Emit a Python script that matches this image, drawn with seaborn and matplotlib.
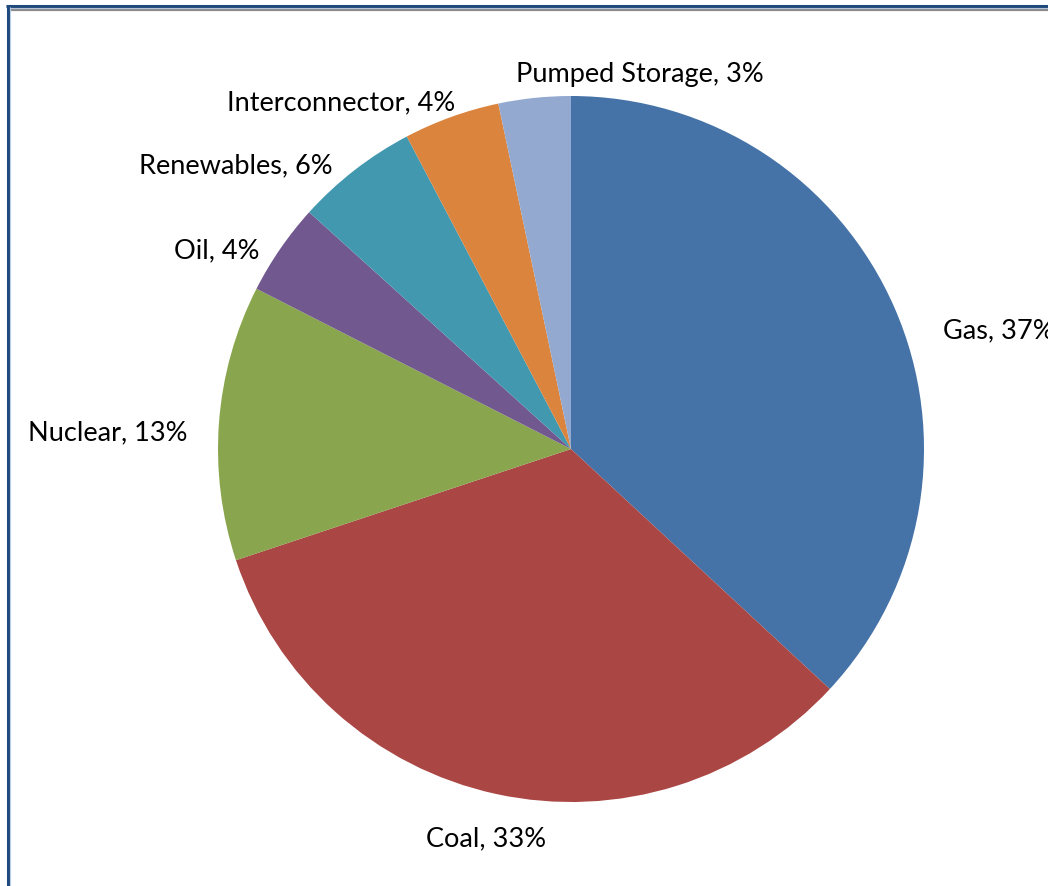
import matplotlib
matplotlib.use("Agg")
import matplotlib.pyplot as plt
from matplotlib.lines import Line2D
import seaborn as sns

sns.set_theme(style="white")
plt.rcParams["font.family"] = ["Lato", "DejaVu Sans"]

# Generation mix by source (percent of total)
sources = ["Gas", "Coal", "Nuclear", "Oil", "Renewables", "Interconnector", "Pumped Storage"]
shares = [36.9, 33.0, 12.6, 4.2, 5.6, 4.4, 3.3]
colors = ["#4572A7", "#AA4643", "#89A54E", "#71588F", "#4198AF", "#DB843D", "#93A9CF"]

W, H, DPI = 1048, 887, 100
fig = plt.figure(figsize=(W / DPI, H / DPI), dpi=DPI)
fig.patch.set_facecolor("white")

# Axes spans the whole canvas; limits are chosen so one data unit = pie radius in pixels
ax = fig.add_axes([0, 0, 1, 1])
cx, cy, rad = 571, 450, 353
ax.axis("off")

wedges, _ = ax.pie(
    shares,
    colors=colors,
    startangle=90,
    counterclock=False,
    radius=1.0,
    center=(0, 0),
    wedgeprops=dict(linewidth=0),
    frame=False,
)
ax.set_aspect("auto")
ax.set_xlim(-cx / rad, (W - cx) / rad)
ax.set_ylim(-(H - cy) / rad, cy / rad)

# Label anchors in pixel space (x, y from top-left) with alignment
label_layout = [
    (943, 328, "left"),     # Gas
    (486, 836, "center"),   # Coal
    (187, 430, "right"),    # Nuclear
    (260, 248, "right"),    # Oil
    (333, 163, "right"),    # Renewables
    (455, 100, "right"),    # Interconnector
    (640, 72, "center"),    # Pumped Storage
]

for name, val, (px, py, ha) in zip(sources, shares, label_layout):
    fig.text(px / W, 1 - py / H, f"{name}, {val:.0f}%", ha=ha, va="center_baseline",
             fontsize=19.5, color="#000000")

# Chart frame: dark blue outer rule with a grey inner rule along the top
def hline(y, x0, x1, color, lw):
    fig.add_artist(Line2D([x0 / W, x1 / W], [1 - y / H, 1 - y / H], color=color,
                          linewidth=lw, transform=fig.transFigure, solid_capstyle="butt"))

def vline(x, y0, y1, color, lw):
    fig.add_artist(Line2D([x / W, x / W], [1 - y0 / H, 1 - y1 / H], color=color,
                          linewidth=lw, transform=fig.transFigure, solid_capstyle="butt"))

hline(7.0, 6, W, "#1F497D", 2.2)
hline(8.8, 9, W, "#B9CDE5", 0.8)
hline(11.0, 9, W, "#8C8C8C", 1.6)
vline(7.5, 6, H, "#1F497D", 2.2)
vline(9.5, 8, H, "#B9CDE5", 0.8)

fig.savefig("out.png", dpi=DPI, facecolor="white")
